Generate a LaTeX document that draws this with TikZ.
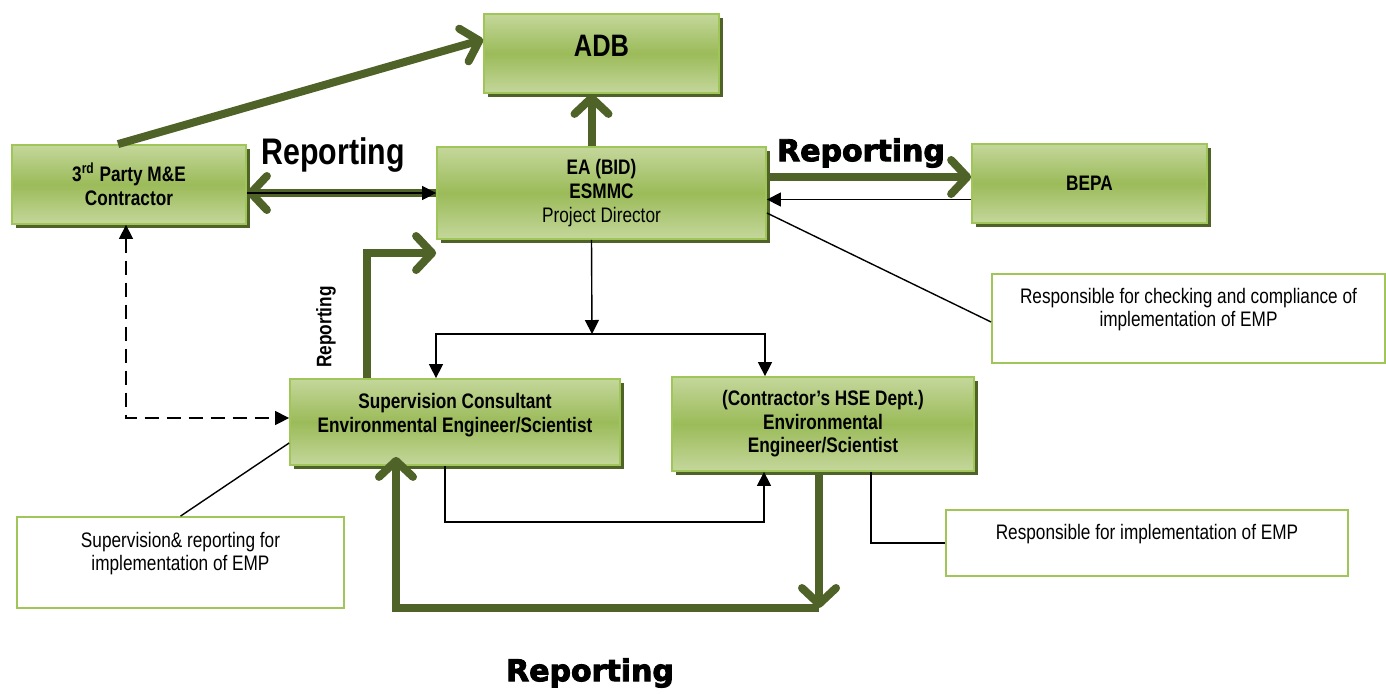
\documentclass[tikz,border=0pt]{standalone}
\usepackage{fontspec}
\setmainfont[FakeStretch=0.82]{Liberation Sans}
\newfontfamily\heavyfont[FakeBold=3]{DejaVu Sans Bold}
\usetikzlibrary{arrows.meta,shadows}
\definecolor{boxlight}{RGB}{196,215,155}
\definecolor{boxmid}{RGB}{155,187,89}
\definecolor{boxedge}{RGB}{160,198,90}
\definecolor{darkolive}{RGB}{79,98,40}

\begin{document}
\begin{tikzpicture}[x=0.5pt,y=-0.5pt,
  box/.style={draw=boxedge, line width=0.9pt, top color=boxlight, bottom color=boxlight, middle color=boxmid,
    drop shadow={shadow xshift=2pt, shadow yshift=-2pt, fill=darkolive, opacity=1},
    align=center, inner sep=0pt, font=\fontsize{10.5}{11.8}\selectfont\bfseries},
  note/.style={draw=boxedge, line width=0.9pt, fill=white, align=center, inner sep=0pt, text depth=11pt,
    font=\fontsize{10.5}{11.8}\selectfont},
  greenarrow/.style={draw=darkolive, line width=4pt, -{Straight Barb[length=8pt,width=17pt,round]}},
  blackarrow/.style={draw=black, line width=0.7pt, -{Triangle[length=7pt,width=7pt]}},
  blackline/.style={draw=black, line width=0.7pt},
  dasharrow/.style={draw=black, line width=0.7pt, dash pattern=on 7pt off 4pt, {Triangle[length=7pt,width=7pt]}-{Triangle[length=7pt,width=7pt]}},
  bigrep/.style={font=\fontsize{18.5}{20}\selectfont\bfseries},
  heavyrep/.style={font=\fontsize{15}{16}\selectfont\heavyfont}
]
\useasboundingbox (0,0) rectangle (1386,693);

\node[box, minimum width=117.5pt, minimum height=39.5pt, text depth=8pt, font=\fontsize{15.5}{17}\selectfont\bfseries] (adb) at (601.5,53.5) {ADB};
\node[box, minimum width=117pt, minimum height=39.5pt] (tp) at (129,184.5) {3\textsuperscript{rd} Party M\&E\\Contractor};
\node[box, minimum width=164.5pt, minimum height=46pt] (ea) at (601.5,193) {EA (BID)\\ESMMC\\{\mdseries Project Director}};
\node[box, minimum width=117.5pt, minimum height=39.5pt] (bepa) at (1089.5,183.5) {BEPA};
\node[box, minimum width=165pt, minimum height=43pt, text depth=9pt] (sup) at (455,422) {Supervision Consultant\\Environmental Engineer/Scientist};
\node[box, minimum width=151pt, minimum height=47pt] (hse) at (823,424) {(Contractor’s HSE Dept.)\\Environmental\\Engineer/Scientist};

\node[note, minimum width=196.5pt, minimum height=44.5pt] (n1) at (1188.5,318.5) {Responsible for checking and compliance of\\implementation of EMP};
\node[note, minimum width=163.5pt, minimum height=45.5pt] (n2) at (180.5,562.5) {Supervision\& reporting for\\implementation of EMP};
\node[note, minimum width=201pt, minimum height=33pt] (n3) at (1147,543) {Responsible for implementation of EMP};

\node[bigrep] (rep1) at (333,155) {Reporting};
\node[heavyrep] (rep2) at (861,153) {Reporting};
\node[rotate=90, font=\fontsize{10.5}{12}\selectfont\bfseries] (rep3) at (326,327) {Reporting};
\node[heavyrep] (rep4) at (590,673) {Reporting};

\coordinate (split) at (592,334);
\coordinate (loopR) at (819,608);

\draw[greenarrow] ([xshift=-5.5pt]tp.north) -- ([yshift=7pt]adb.west);
\draw[greenarrow] (ea.west) -- (ea.west -| tp.east);
\draw[blackarrow] (ea.west -| tp.east) -- (ea.west);
\draw[greenarrow] ([xshift=-5pt]ea.north) -- ([xshift=-5pt]adb.south);
\draw[greenarrow] ([yshift=8pt]ea.east) -- ([yshift=8pt]ea.east -| bepa.west);
\draw[blackarrow] ([yshift=-8pt]bepa.west) -- ([yshift=-8pt]bepa.west -| ea.east);
\draw[blackline] ([yshift=-10pt]ea.east) -- ([yshift=-1.75pt]n1.west);

\draw[blackarrow] ([xshift=-5pt]ea.south) -- (split);
\draw[blackarrow] (split) -| ([xshift=-9.5pt]sup.north);
\draw[blackarrow] (split) -| ([xshift=-29pt]hse.north);

\draw[greenarrow] ([xshift=-44pt]sup.north) |- ([yshift=-30pt]ea.west);
\draw[dasharrow] ([xshift=-1.5pt]tp.south) |- ([yshift=2pt]sup.west);
\draw[blackline] ([yshift=-10.5pt]sup.west) -- (n2.north);

\draw[blackarrow] ([xshift=-5pt]sup.south) -- ++(0,56) -| ([xshift=-29.5pt]hse.south);
\draw[blackline] ([xshift=24pt]hse.south) |- (n3.west);

\draw[greenarrow] ([xshift=-2pt]hse.south) -- (loopR);
\draw[greenarrow] (loopR) -| ([xshift=-29.5pt,yshift=4.5pt]sup.south);
\end{tikzpicture}
\end{document}
